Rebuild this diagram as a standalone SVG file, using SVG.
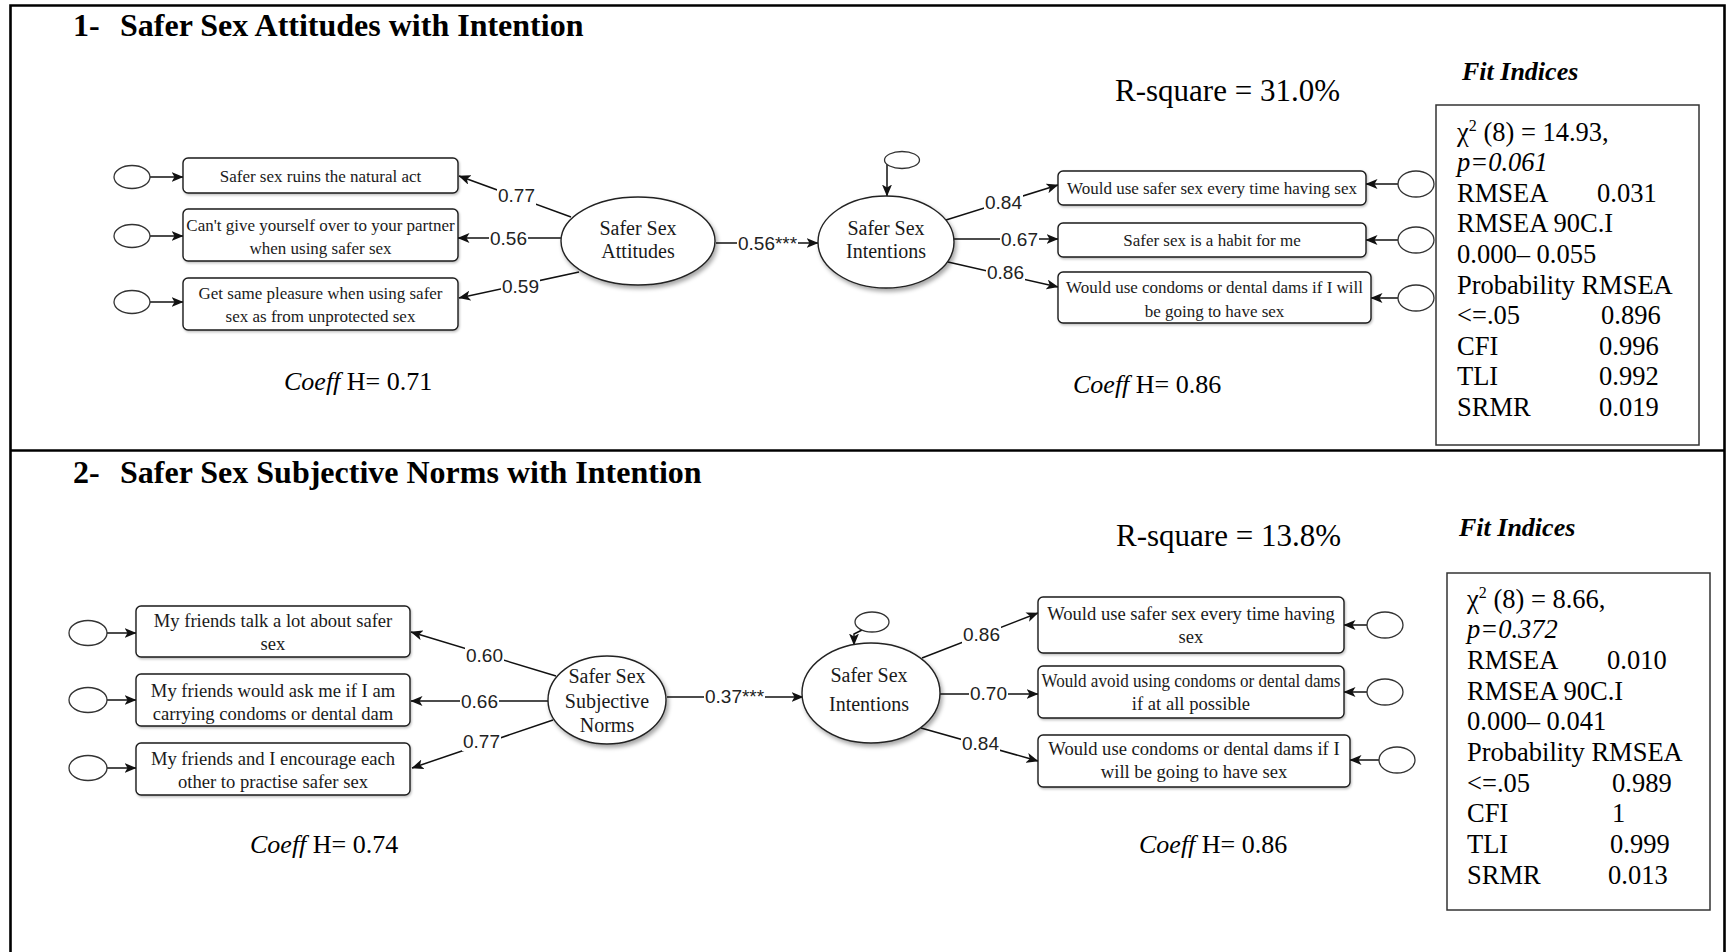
<svg xmlns="http://www.w3.org/2000/svg" width="1728" height="952" viewBox="0 0 1728 952">
<defs>
<style>
.frame{fill:none;stroke:#000;stroke-width:2.6}
.title{font-family:"Liberation Serif","Times New Roman",serif;font-weight:bold;font-size:32px;fill:#000}
.box{fill:#fff;stroke:#1a1a1a;stroke-width:1.4}
.t1{font-family:"Liberation Serif","Times New Roman",serif;font-size:17px;fill:#1a1a1a;text-anchor:middle}
.t2{font-family:"Liberation Serif","Times New Roman",serif;font-size:18.6px;fill:#1a1a1a;text-anchor:middle}
.lat{fill:#fff;stroke:#222;stroke-width:1.4}
.latt{font-family:"Liberation Serif","Times New Roman",serif;font-size:20px;fill:#1a1a1a;text-anchor:middle}
.err{fill:#fff;stroke:#333;stroke-width:1.3}
.edge{stroke:#111;stroke-width:1.5;fill:none;marker-end:url(#ah)}
.lbl{font-family:"Liberation Sans",Arial,sans-serif;font-size:19px;fill:#222}
.lbg{fill:#fff}
.big{font-family:"Liberation Serif","Times New Roman",serif;font-size:31px;fill:#000}
.coef{font-family:"Liberation Serif","Times New Roman",serif;font-size:26px;fill:#000}
.fith{font-family:"Liberation Serif","Times New Roman",serif;font-size:26px;font-weight:bold;font-style:italic;fill:#000}
.fitbox{fill:#fff;stroke:#333;stroke-width:1.5}
.fit{font-family:"Liberation Serif","Times New Roman",serif;font-size:26.5px;fill:#000}
</style>
<marker id="ah" viewBox="0 0 12 10" refX="11.5" refY="5" markerWidth="12" markerHeight="10" markerUnits="userSpaceOnUse" orient="auto">
<path d="M0,0 L12,5 L0,10 L3,5 z" fill="#111"/>
</marker>
<filter id="sh" x="-20%" y="-20%" width="150%" height="150%">
<feDropShadow dx="2" dy="3" stdDeviation="2" flood-color="#000" flood-opacity="0.35"/>
</filter>
<filter id="sh2" x="-10%" y="-20%" width="120%" height="150%">
<feDropShadow dx="1" dy="1.5" stdDeviation="1" flood-color="#000" flood-opacity="0.25"/>
</filter>
</defs>

<rect width="1728" height="952" fill="#fff"/>

<!-- page frame and panel divider -->
<g id="frame">
<path class="frame" d="M10.5 952 V5.5 H1724.5 V952"/>
<path class="frame" d="M10.5 450.5 H1724.5"/>
</g>

<!-- ===== Panel 1 ===== -->
<g id="title1">
<text class="title" x="73" y="36">1-</text>
<text class="title" x="120" y="36">Safer Sex Attitudes with Intention</text>
</g>
<text id="rsq1" class="big" x="1115" y="101">R-square = 31.0%</text>
<text id="coef1a" class="coef" x="284" y="390"><tspan font-style="italic">Coeff</tspan> H= 0.71</text>
<text id="coef1b" class="coef" x="1073" y="393"><tspan font-style="italic">Coeff</tspan> H= 0.86</text>

<g id="fit1">
<text class="fith" x="1462" y="80">Fit Indices</text>
<rect class="fitbox" x="1436" y="105" width="263" height="340"/>
<text class="fit" x="1457" y="141">χ<tspan font-size="16" dy="-10">2</tspan><tspan dy="10"> (8) = 14.93,</tspan></text>
<text class="fit" x="1457" y="171" font-style="italic">p=0.061</text>
<text class="fit" x="1457" y="202">RMSEA</text><text class="fit" x="1597" y="202">0.031</text>
<text class="fit" x="1457" y="232">RMSEA 90C.I</text>
<text class="fit" x="1457" y="263">0.000– 0.055</text>
<text class="fit" x="1457" y="294">Probability RMSEA</text>
<text class="fit" x="1457" y="324">&lt;=.05</text><text class="fit" x="1601" y="324">0.896</text>
<text class="fit" x="1457" y="355">CFI</text><text class="fit" x="1599" y="355">0.996</text>
<text class="fit" x="1457" y="385">TLI</text><text class="fit" x="1599" y="385">0.992</text>
<text class="fit" x="1457" y="416">SRMR</text><text class="fit" x="1599" y="416">0.019</text>
</g>

<!-- connectors, both panels -->
<g id="connectors">
<!-- panel 1: error terms to indicators -->
<path class="edge" d="M150 177 H183"/>
<path class="edge" d="M150 236 H183"/>
<path class="edge" d="M150 302 H183"/>
<path class="edge" d="M1398 184 H1366"/>
<path class="edge" d="M1398 240 H1366"/>
<path class="edge" d="M1398 298 H1371"/>
<path class="edge" d="M887 164 V196"/>
<!-- panel 1: loadings and structural path -->
<path class="edge" d="M571 217 L459 176"/>
<path class="edge" d="M561 238 H458"/>
<path class="edge" d="M579 272 L459 298"/>
<path class="edge" d="M716 243 H818"/>
<path class="edge" d="M946 220 L1058 185"/>
<path class="edge" d="M954 239 H1058"/>
<path class="edge" d="M948 262 L1058 287"/>
<rect class="lbg" x="497" y="187" width="39" height="18"/><text class="lbl" x="498" y="202">0.77</text>
<rect class="lbg" x="489" y="230" width="39" height="18"/><text class="lbl" x="490" y="245">0.56</text>
<rect class="lbg" x="501" y="278" width="39" height="18"/><text class="lbl" x="502" y="293">0.59</text>
<rect class="lbg" x="737" y="234" width="61" height="18"/><text class="lbl" x="738" y="250">0.56***</text>
<rect class="lbg" x="984" y="194" width="39" height="18"/><text class="lbl" x="985" y="209">0.84</text>
<rect class="lbg" x="1000" y="231" width="39" height="18"/><text class="lbl" x="1001" y="246">0.67</text>
<rect class="lbg" x="986" y="264" width="39" height="18"/><text class="lbl" x="987" y="279">0.86</text>

<!-- panel 2: error terms to indicators -->
<path class="edge" d="M107 633 H136"/>
<path class="edge" d="M107 700 H136"/>
<path class="edge" d="M107 768 H136"/>
<path class="edge" d="M1367 625 H1344"/>
<path class="edge" d="M1367 692 H1344"/>
<path class="edge" d="M1379 760 H1350"/>
<path class="edge" d="M862 630 L854 634 V645"/>
<!-- panel 2: loadings and structural path -->
<path class="edge" d="M556 676 L411 632"/>
<path class="edge" d="M548 701 H411"/>
<path class="edge" d="M553 720 L412 768"/>
<path class="edge" d="M667 697 H803"/>
<path class="edge" d="M922 658 L1038 613"/>
<path class="edge" d="M940 694 H1038"/>
<path class="edge" d="M921 728 L1038 761"/>
<rect class="lbg" x="465" y="647" width="39" height="18"/><text class="lbl" x="466" y="662">0.60</text>
<rect class="lbg" x="460" y="693" width="39" height="18"/><text class="lbl" x="461" y="708">0.66</text>
<rect class="lbg" x="462" y="733" width="39" height="18"/><text class="lbl" x="463" y="748">0.77</text>
<rect class="lbg" x="704" y="688" width="61" height="18"/><text class="lbl" x="705" y="703">0.37***</text>
<rect class="lbg" x="962" y="626" width="39" height="18"/><text class="lbl" x="963" y="641">0.86</text>
<rect class="lbg" x="969" y="685" width="39" height="18"/><text class="lbl" x="970" y="700">0.70</text>
<rect class="lbg" x="961" y="735" width="39" height="18"/><text class="lbl" x="962" y="750">0.84</text>
</g>

<!-- panel 1 error terms -->
<g id="e1a"><ellipse class="err" cx="132" cy="177" rx="18" ry="11.5"/></g>
<g id="e1b"><ellipse class="err" cx="132" cy="236" rx="18" ry="11.5"/></g>
<g id="e1c"><ellipse class="err" cx="132" cy="302" rx="18" ry="11.5"/></g>
<g id="e1d"><ellipse class="err" cx="1416" cy="184" rx="18" ry="13"/></g>
<g id="e1e"><ellipse class="err" cx="1416" cy="240" rx="18" ry="13"/></g>
<g id="e1f"><ellipse class="err" cx="1416" cy="298" rx="18" ry="13"/></g>
<g id="res1"><ellipse class="err" cx="902" cy="160" rx="17.5" ry="8.5"/></g>

<!-- panel 1 indicators -->
<g id="att1">
<rect class="box" filter="url(#sh2)" x="183" y="158" width="275" height="35" rx="5"/>
<text class="t1" x="320.5" y="182">Safer sex ruins the natural act</text>
</g>
<g id="att2">
<rect class="box" filter="url(#sh2)" x="183" y="209" width="275" height="52" rx="5"/>
<text class="t1" x="320.5" y="231">Can't give yourself over to your partner</text>
<text class="t1" x="320.5" y="254">when using safer sex</text>
</g>
<g id="att3">
<rect class="box" filter="url(#sh2)" x="183" y="278" width="275" height="52" rx="5"/>
<text class="t1" x="320.5" y="299">Get same pleasure when using safer</text>
<text class="t1" x="320.5" y="322">sex as from unprotected sex</text>
</g>
<g id="int1a">
<rect class="box" filter="url(#sh2)" x="1058" y="171" width="308" height="34" rx="5"/>
<text class="t1" x="1212" y="194">Would use safer sex every time having sex</text>
</g>
<g id="int1b">
<rect class="box" filter="url(#sh2)" x="1058" y="223" width="308" height="34" rx="5"/>
<text class="t1" x="1212" y="246">Safer sex is a habit for me</text>
</g>
<g id="int1c">
<rect class="box" filter="url(#sh2)" x="1058" y="272" width="313" height="51" rx="5"/>
<text class="t1" x="1214.5" y="293">Would use condoms or dental dams if I will</text>
<text class="t1" x="1214.5" y="317">be going to have sex</text>
</g>

<!-- panel 1 latent variables -->
<g id="attitudes">
<ellipse class="lat" filter="url(#sh)" cx="638" cy="241" rx="77" ry="44"/>
<text class="latt" x="638" y="235">Safer Sex</text>
<text class="latt" x="638" y="258">Attitudes</text>
</g>
<g id="intentions1">
<ellipse class="lat" filter="url(#sh)" cx="886" cy="242" rx="68" ry="46"/>
<text class="latt" x="886" y="235">Safer Sex</text>
<text class="latt" x="886" y="258">Intentions</text>
</g>

<!-- ===== Panel 2 ===== -->
<g id="title2">
<text class="title" x="73" y="483">2-</text>
<text class="title" x="120" y="483">Safer Sex Subjective Norms with Intention</text>
</g>
<text id="rsq2" class="big" x="1116" y="546">R-square = 13.8%</text>
<text id="coef2a" class="coef" x="250" y="853"><tspan font-style="italic">Coeff</tspan> H= 0.74</text>
<text id="coef2b" class="coef" x="1139" y="853"><tspan font-style="italic">Coeff</tspan> H= 0.86</text>

<g id="fit2">
<text class="fith" x="1459" y="536">Fit Indices</text>
<rect class="fitbox" x="1447" y="573" width="263" height="337"/>
<text class="fit" x="1467" y="608">χ<tspan font-size="16" dy="-10">2</tspan><tspan dy="10"> (8) = 8.66,</tspan></text>
<text class="fit" x="1467" y="638" font-style="italic">p=0.372</text>
<text class="fit" x="1467" y="669">RMSEA</text><text class="fit" x="1607" y="669">0.010</text>
<text class="fit" x="1467" y="700">RMSEA 90C.I</text>
<text class="fit" x="1467" y="730">0.000– 0.041</text>
<text class="fit" x="1467" y="761">Probability RMSEA</text>
<text class="fit" x="1467" y="792">&lt;=.05</text><text class="fit" x="1612" y="792">0.989</text>
<text class="fit" x="1467" y="822">CFI</text><text class="fit" x="1612" y="822">1</text>
<text class="fit" x="1467" y="853">TLI</text><text class="fit" x="1610" y="853">0.999</text>
<text class="fit" x="1467" y="884">SRMR</text><text class="fit" x="1608" y="884">0.013</text>
</g>

<!-- panel 2 error terms -->
<g id="e2a"><ellipse class="err" cx="88" cy="633" rx="19" ry="12.5"/></g>
<g id="e2b"><ellipse class="err" cx="88" cy="700" rx="19" ry="12.5"/></g>
<g id="e2c"><ellipse class="err" cx="88" cy="768" rx="19" ry="12.5"/></g>
<g id="e2d"><ellipse class="err" cx="1385" cy="625" rx="18" ry="13"/></g>
<g id="e2e"><ellipse class="err" cx="1385" cy="692" rx="18" ry="13"/></g>
<g id="e2f"><ellipse class="err" cx="1397" cy="760" rx="18" ry="13"/></g>
<g id="res2"><ellipse class="err" cx="872" cy="622" rx="17" ry="10"/></g>

<!-- panel 2 indicators -->
<g id="norm1">
<rect class="box" filter="url(#sh2)" x="136" y="606" width="274" height="51" rx="5"/>
<text class="t2" x="273" y="627">My friends talk a lot about safer</text>
<text class="t2" x="273" y="650">sex</text>
</g>
<g id="norm2">
<rect class="box" filter="url(#sh2)" x="136" y="674" width="274" height="52" rx="5"/>
<text class="t2" x="273" y="697">My friends would ask me if I am</text>
<text class="t2" x="273" y="720">carrying condoms or dental dam</text>
</g>
<g id="norm3">
<rect class="box" filter="url(#sh2)" x="136" y="743" width="274" height="52" rx="5"/>
<text class="t2" x="273" y="765">My friends and I encourage each</text>
<text class="t2" x="273" y="788">other to practise safer sex</text>
</g>
<g id="int2a">
<rect class="box" filter="url(#sh2)" x="1038" y="597" width="306" height="56" rx="5"/>
<text class="t2" x="1191" y="620">Would use safer sex every time having</text>
<text class="t2" x="1191" y="643">sex</text>
</g>
<g id="int2b">
<rect class="box" filter="url(#sh2)" x="1038" y="666" width="306" height="52" rx="5"/>
<text class="t2" x="1191" y="687" textLength="299" lengthAdjust="spacingAndGlyphs">Would avoid using condoms or dental dams</text>
<text class="t2" x="1191" y="710">if at all possible</text>
</g>
<g id="int2c">
<rect class="box" filter="url(#sh2)" x="1038" y="735" width="312" height="52" rx="5"/>
<text class="t2" x="1194" y="755">Would use condoms or dental dams if I</text>
<text class="t2" x="1194" y="778">will be going to have sex</text>
</g>

<!-- panel 2 latent variables -->
<g id="norms">
<ellipse class="lat" filter="url(#sh)" cx="607" cy="700" rx="59" ry="44"/>
<text class="latt" x="607" y="683">Safer Sex</text>
<text class="latt" x="607" y="708">Subjective</text>
<text class="latt" x="607" y="732">Norms</text>
</g>
<g id="intentions2">
<ellipse class="lat" filter="url(#sh)" cx="871" cy="693" rx="69" ry="50"/>
<text class="latt" x="869" y="682">Safer Sex</text>
<text class="latt" x="869" y="711">Intentions</text>
</g>
</svg>
